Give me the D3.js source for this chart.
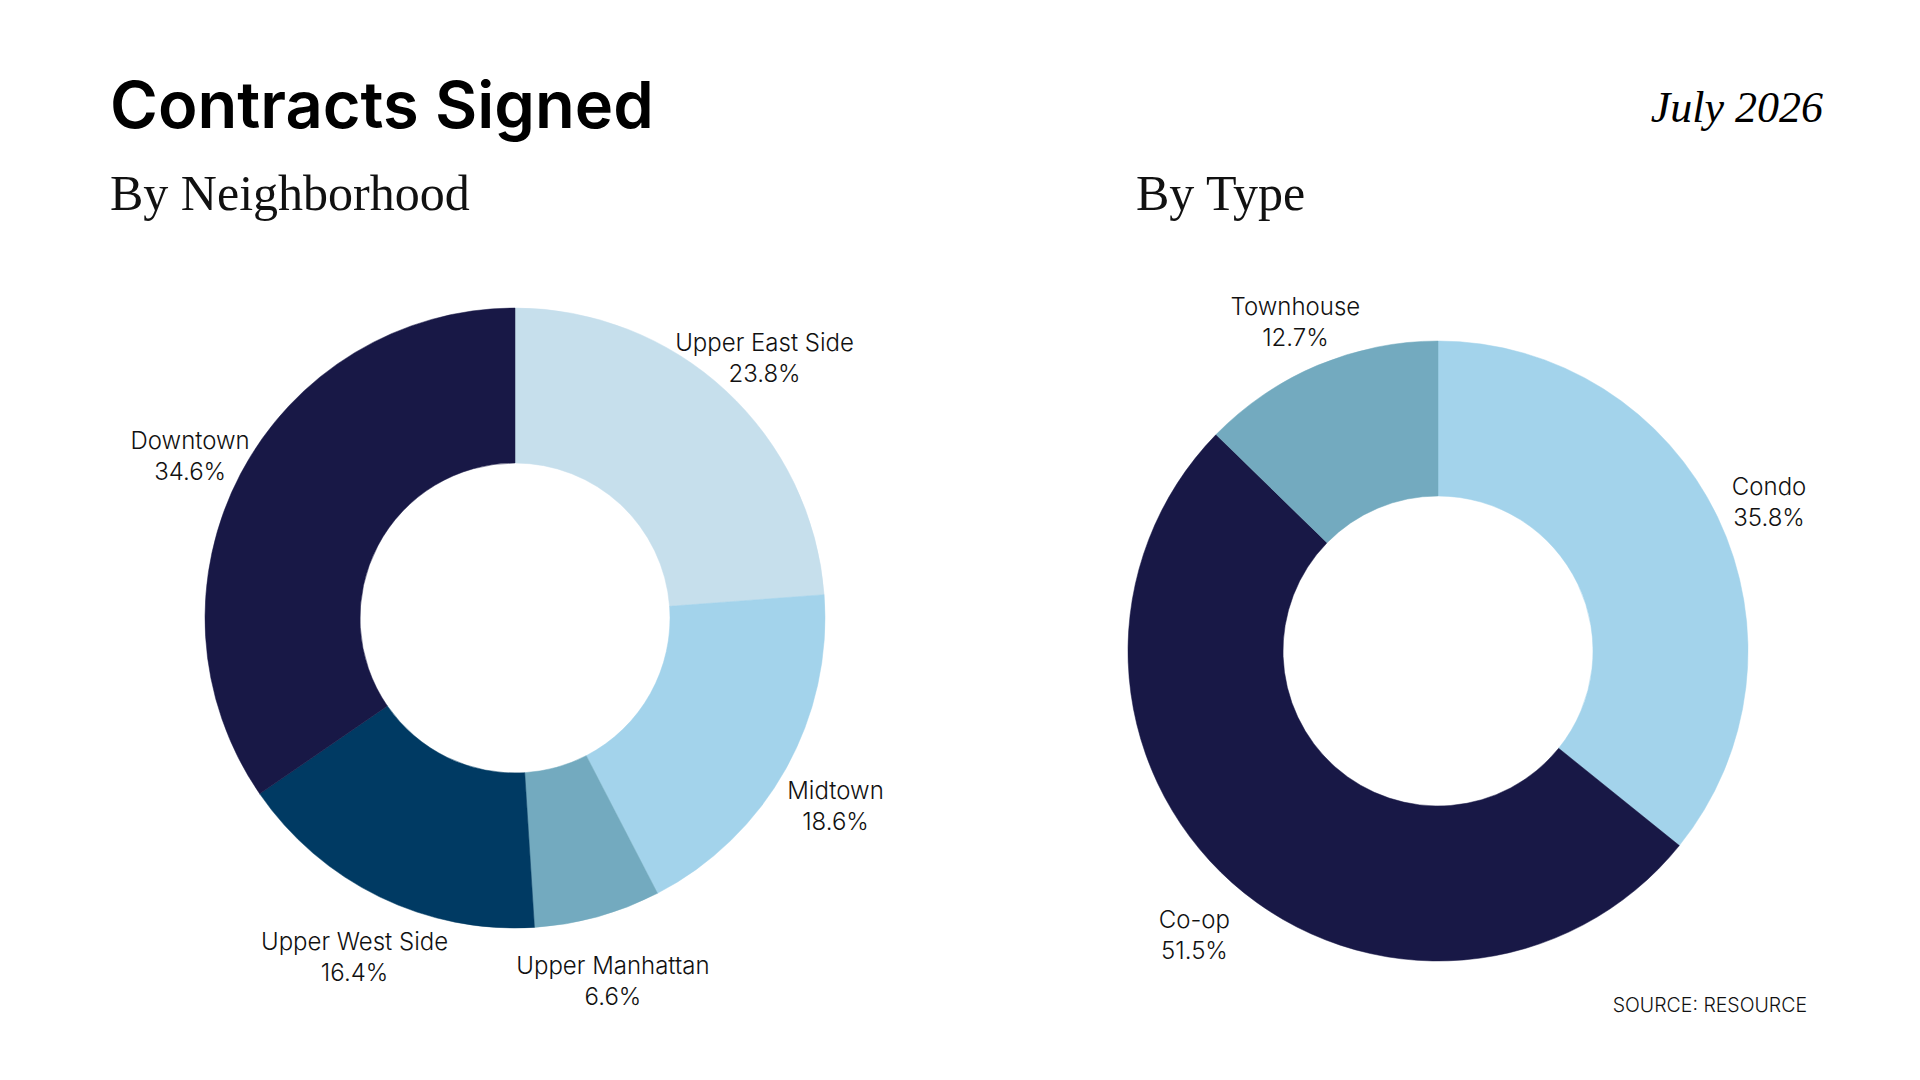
<!DOCTYPE html>
<html>
<head>
<meta charset="utf-8">
<script src="https://cdn.jsdelivr.net/npm/d3@7"></script>
<style>
	body { margin: 0; background: #ffffff; }
	svg { display: block; }
</style>
</head>
<body>
<svg id="chart"></svg>
<script>

var hoodNames = ["Upper East Side", "Midtown", "Upper Manhattan", "Upper West Side", "Downtown"];
var hoodShares = [23.8, 18.6, 6.6, 16.4, 34.6];
var typeNames = ["Condo", "Co-op", "Townhouse"];
var typeShares = [35.8, 51.5, 12.7];

var hoodColors = ["#c6dfec", "#a3d3eb", "#73aabf", "#003a63", "#181846"];
var typeColors = ["#a3d3eb", "#181846", "#73aabf"];

var WIDTH = 1920, HEIGHT = 1080,
	SANS = "Inter, 'Noto Sans', sans-serif",
	SERIF = "'Liberation Serif', 'DejaVu Serif', serif";

function Donut(parent) {

	var self = this;
	var _g, _names, _values, _colors,
		_outer = 310,
		_inner = 155,
		_labelRadius = 367,
		_pie = d3.pie().sort(null).value(function(d) { return d; }),
		_arc = d3.arc(),
		_labelArc = d3.arc();

	self.data = function(names, values, colors) {
		_names = names;
		_values = values;
		_colors = colors;
	}

	self.center = function(x, y) {
		_g.attr("transform", "translate(" + x + "," + y + ")");
	}

	self.render = function() {
		_arc.innerRadius(_inner).outerRadius(_outer);
		_labelArc.innerRadius(_labelRadius).outerRadius(_labelRadius);

		var arcs = _pie(_values);

		_g.selectAll(".slice")
			.data(arcs)
			.enter().append("path")
			.attr("class", "slice")
			.attr("d", _arc)
			.style("fill", function(d, i) { return _colors[i]; })
			.style("stroke", function(d, i) { return _colors[i]; })
			.style("stroke-width", 0.5);

		var labels = _g.selectAll(".label")
			.data(arcs)
			.enter().append("text")
			.attr("class", "label")
			.attr("transform", function(d) { return "translate(" + _labelArc.centroid(d) + ")"; })
			.style("font-family", SANS)
			.style("font-weight", 300)
			.style("font-size", "24px")
			.style("fill", "#111111")
			.style("text-anchor", "middle");

		labels.append("tspan")
			.attr("x", 0)
			.attr("y", 2)
			.text(function(d, i) { return _names[i]; });

		labels.append("tspan")
			.attr("x", 0)
			.attr("y", 33)
			.text(function(d) { return d.data.toFixed(1) + "%"; });
	}

	function init(parent) {
		_g = parent.append("g");
	}

	init(parent);
}

var svg = d3.select("#chart")
	.attr("width", WIDTH)
	.attr("height", HEIGHT);

svg.append("rect")
	.attr("width", WIDTH)
	.attr("height", HEIGHT)
	.style("fill", "#ffffff");

svg.append("text")
	.attr("x", 110)
	.attr("y", 128)
	.style("font-family", SANS)
	.style("font-weight", 600)
	.style("font-size", "65px")
	.style("fill", "#000000")
	.text("Contracts Signed");

svg.append("text")
	.attr("x", 1823)
	.attr("y", 122)
	.style("font-family", SERIF)
	.style("font-style", "italic")
	.style("font-size", "44px")
	.style("fill", "#000000")
	.style("text-anchor", "end")
	.text("July 2026");

svg.append("text")
	.attr("x", 110)
	.attr("y", 210)
	.style("font-family", SERIF)
	.style("font-size", "50px")
	.style("fill", "#111111")
	.text("By Neighborhood");

svg.append("text")
	.attr("x", 1136)
	.attr("y", 210)
	.style("font-family", SERIF)
	.style("font-size", "50px")
	.style("fill", "#111111")
	.text("By Type");

var hood = new Donut(svg);
hood.data(hoodNames, hoodShares, hoodColors);
hood.center(515, 618);
hood.render();

var type = new Donut(svg);
type.data(typeNames, typeShares, typeColors);
type.center(1438, 651);
type.render();

svg.append("text")
	.attr("x", 1807)
	.attr("y", 1012)
	.style("font-family", SANS)
	.style("font-weight", 300)
	.style("font-size", "19.5px")
	.style("fill", "#111111")
	.style("text-anchor", "end")
	.text("SOURCE: RESOURCE");

</script>
</body>
</html>
